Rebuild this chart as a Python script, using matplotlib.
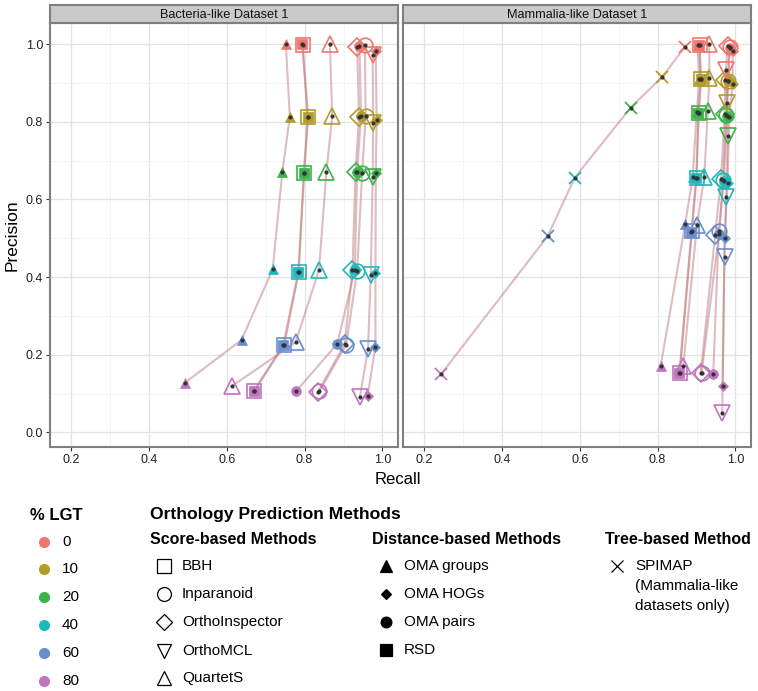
import matplotlib
matplotlib.use("Agg")
from matplotlib import pyplot as plt
from matplotlib.ticker import MultipleLocator

plt.rcParams['font.family'] = ['Liberation Sans', 'DejaVu Sans']

lgt_levels = ['0', '10', '20', '40', '60', '80']
lgt_colors = ['#F0766E', '#B39B2C', '#3DB24B', '#22B7BB', '#6A8DCF', '#C173BE']

# Bacteria-like Dataset 1 : recall / precision per LGT level (0,10,20,40,60,80)
bact_recall = {
    'OMA groups':     [0.752, 0.762, 0.743, 0.718, 0.638, 0.493],
    'RSD':            [0.794, 0.808, 0.798, 0.784, 0.745, 0.670],
    'BBH':            [0.795, 0.809, 0.799, 0.785, 0.748, 0.671],
    'QuartetS':       [0.865, 0.871, 0.856, 0.837, 0.777, 0.613],
    'OrthoInspector': [0.935, 0.940, 0.931, 0.923, 0.903, 0.835],
    'OMA pairs':      [0.941, 0.945, 0.935, 0.929, 0.884, 0.779],
    'Inparanoid':     [0.955, 0.957, 0.948, 0.935, 0.907, 0.838],
    'OrthoMCL':       [0.975, 0.976, 0.975, 0.970, 0.963, 0.942],
    'OMA HOGs':       [0.983, 0.985, 0.983, 0.982, 0.982, 0.962],
}
bact_precision = {
    'OMA groups':     [1.000, 0.813, 0.672, 0.420, 0.238, 0.128],
    'RSD':            [1.000, 0.812, 0.669, 0.413, 0.225, 0.107],
    'BBH':            [0.999, 0.812, 0.669, 0.414, 0.226, 0.107],
    'QuartetS':       [1.000, 0.815, 0.670, 0.418, 0.232, 0.119],
    'OrthoInspector': [0.994, 0.813, 0.672, 0.418, 0.228, 0.105],
    'OMA pairs':      [0.995, 0.814, 0.670, 0.418, 0.228, 0.107],
    'Inparanoid':     [0.998, 0.815, 0.669, 0.416, 0.226, 0.106],
    'OrthoMCL':       [0.972, 0.796, 0.659, 0.405, 0.216, 0.090],
    'OMA HOGs':       [0.983, 0.805, 0.667, 0.411, 0.221, 0.094],
}

# Mammalia-like Dataset 1
mamm_recall = {
    'SPIMAP':         [0.871, 0.811, 0.731, 0.587, 0.518, 0.244],
    'OMA groups':     [0.903, 0.907, 0.901, 0.890, 0.871, 0.808],
    'RSD':            [0.907, 0.911, 0.905, 0.899, 0.887, 0.856],
    'BBH':            [0.908, 0.912, 0.906, 0.900, 0.888, 0.857],
    'QuartetS':       [0.933, 0.933, 0.929, 0.920, 0.901, 0.866],
    'OMA pairs':      [0.985, 0.982, 0.978, 0.970, 0.957, 0.943],
    'OrthoInspector': [0.980, 0.974, 0.972, 0.963, 0.948, 0.911],
    'Inparanoid':     [0.985, 0.980, 0.976, 0.968, 0.959, 0.913],
    'OMA HOGs':       [0.993, 0.993, 0.984, 0.980, 0.972, 0.967],
    'OrthoMCL':       [0.976, 0.978, 0.980, 0.976, 0.972, 0.966],
}
mamm_precision = {
    'SPIMAP':         [0.994, 0.915, 0.837, 0.656, 0.506, 0.150],
    'OMA groups':     [0.998, 0.911, 0.826, 0.657, 0.537, 0.171],
    'RSD':            [0.998, 0.910, 0.824, 0.655, 0.517, 0.152],
    'BBH':            [0.997, 0.910, 0.824, 0.655, 0.518, 0.153],
    'QuartetS':       [1.000, 0.912, 0.828, 0.659, 0.534, 0.171],
    'OMA pairs':      [0.990, 0.905, 0.815, 0.648, 0.512, 0.150],
    'OrthoInspector': [0.996, 0.908, 0.820, 0.652, 0.508, 0.154],
    'Inparanoid':     [0.994, 0.906, 0.818, 0.650, 0.520, 0.153],
    'OMA HOGs':       [0.983, 0.898, 0.813, 0.642, 0.500, 0.119],
    'OrthoMCL':       [0.934, 0.848, 0.764, 0.606, 0.451, 0.049],
}

score_methods = ['BBH', 'Inparanoid', 'OrthoInspector', 'OrthoMCL', 'QuartetS']
distance_methods = ['OMA groups', 'OMA HOGs', 'OMA pairs', 'RSD']

# marker, size, filled, edge width
styles = {
    'BBH': ('s', 10, False, 1.2),
    'Inparanoid': ('o', 10.5, False, 1.2),
    'OrthoInspector': ('D', 9, False, 1.2),
    'OrthoMCL': ('v', 11, False, 1.2),
    'QuartetS': ('^', 11, False, 1.2),
    'OMA groups': ('^', 7.5, True, 0.5),
    'OMA HOGs': ('D', 5, True, 0.5),
    'OMA pairs': ('o', 7, True, 0.5),
    'RSD': ('s', 7.5, True, 0.5),
    'SPIMAP': ('x', 9, False, 1.3),
}

W, H = 758, 691
fig = plt.figure(figsize=(W / 100, H / 100), dpi=100)

def fx(px):
    return px / W

def fy(py):
    return 1 - py / H

line_col = '#BE7A80'
frame_col = '#7F7F7F'

def draw_panel(left, title, recall, precision, show_y):
    ax = fig.add_axes([fx(left), fy(446.7), 348 / W, (446.7 - 23.3) / H])
    ax.set_xlim(0.146, 1.040)
    ax.set_ylim(-0.037, 1.054)
    ax.xaxis.set_major_locator(MultipleLocator(0.2))
    ax.xaxis.set_minor_locator(MultipleLocator(0.1))
    ax.yaxis.set_major_locator(MultipleLocator(0.2))
    ax.yaxis.set_minor_locator(MultipleLocator(0.1))
    ax.grid(which='major', color='#E3E3E3', lw=0.9)
    ax.grid(which='minor', color='#F1F1F1', lw=0.6)
    ax.set_axisbelow(True)
    for s in ax.spines.values():
        s.set_color(frame_col)
        s.set_linewidth(1.5)
    ax.tick_params(which='major', length=3, width=0.8, color='#333333',
                   labelsize=9, labelcolor='#222222', pad=2)
    ax.tick_params(which='minor', length=0)
    ax.xaxis.set_major_formatter(plt.FuncFormatter(lambda v, p: f"{v:.1f}"))
    ax.yaxis.set_major_formatter(plt.FuncFormatter(lambda v, p: f"{v:.1f}"))
    if not show_y:
        ax.tick_params(axis='y', which='both', left=False, labelleft=False)

    for m in recall:
        ax.plot(recall[m], precision[m], color=line_col, alpha=0.5, lw=1.5, zorder=2)
    for m in recall:
        mk, ms, filled, mew = styles[m]
        for i, c in enumerate(lgt_colors):
            ax.plot(recall[m][i], precision[m][i], ls='none', marker=mk, ms=ms,
                    mfc=c if filled else 'none', mec=c, mew=mew, zorder=3)
        ax.plot(recall[m], precision[m], ls='none', marker='o', ms=2,
                color='#333333', zorder=4)

    strip = fig.add_axes([fx(left), fy(23.3), 348 / W, (23.3 - 4.7) / H])
    strip.set_facecolor('#C9CACA')
    strip.set_xticks([])
    strip.set_yticks([])
    for s in strip.spines.values():
        s.set_color(frame_col)
        s.set_linewidth(1.5)
    strip.text(0.5, 0.45, title, ha='center', va='center', fontsize=9.2,
               color='#111111', transform=strip.transAxes)
    return ax

draw_panel(50, 'Bacteria-like Dataset 1', bact_recall, bact_precision, True)
draw_panel(403, 'Mammalia-like Dataset 1', mamm_recall, mamm_precision, False)

fig.text(fx(398), fy(479), 'Recall', ha='center', va='center', fontsize=12)
fig.text(fx(12), fy(235), 'Precision', ha='center', va='center', fontsize=12.5,
         rotation=90)

# legend drawn in pixel coordinates
leg = fig.add_axes([0, 0, 1, 1], zorder=-1)
leg.set_xlim(0, W)
leg.set_ylim(H, 0)
leg.axis('off')

leg.text(30, 515, '% LGT', fontsize=12, fontweight='bold', va='center')
lgt_y = [541.7, 569.3, 597.3, 625, 653.3, 680.7]
for lab, c, y in zip(lgt_levels, lgt_colors, lgt_y):
    leg.plot(44, y, marker='o', ms=7, color=c, ls='none')
    leg.text(62, y, lab, fontsize=11, va='center')

leg.text(150, 514, 'Orthology Prediction Methods', fontsize=12.6,
         fontweight='bold', va='center')
leg.text(150, 539.3, 'Score-based Methods', fontsize=11.5, fontweight='bold',
         va='center')
leg.text(372, 539.3, 'Distance-based Methods', fontsize=11.5, fontweight='bold',
         va='center')
leg.text(605, 539.3, 'Tree-based Method', fontsize=11.5, fontweight='bold',
         va='center')

def legend_entry(x_mark, x_text, y, m, label):
    mk, ms, filled, mew = styles[m]
    size = ms * 0.95 if not filled else ms * 1.1
    leg.plot(x_mark, y, ls='none', marker=mk, ms=size,
             mfc='black' if filled else 'none', mec='black', mew=0.9)
    leg.text(x_text, y, label, fontsize=11, va='center')

for m, y in zip(score_methods, [566, 594.3, 622.3, 650.7, 678.3]):
    legend_entry(163.5, 182, y, m, m)
for m, y in zip(distance_methods, [566, 594, 622, 650]):
    legend_entry(386, 404, y, m, m)
legend_entry(617, 635, 566, 'SPIMAP', 'SPIMAP')
leg.text(635, 585.7, '(Mammalia-like', fontsize=11, va='center')
leg.text(635, 605.7, 'datasets only)', fontsize=11, va='center')

plt.savefig("out.png", dpi=100)
